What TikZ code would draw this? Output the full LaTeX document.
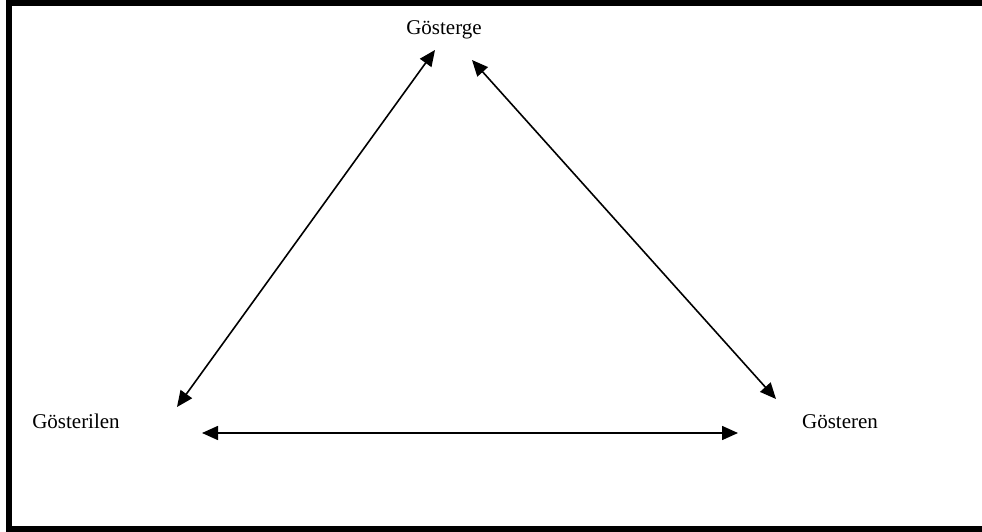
\documentclass[tikz,border=0pt]{standalone}
\usepackage{fontspec}
\setmainfont{Liberation Serif}
\usetikzlibrary{positioning,arrows.meta}

\begin{document}
\begin{tikzpicture}[
  x=1pt, y=-1pt,
  term/.style={font=\fontsize{21}{25}\selectfont, inner sep=0pt, anchor=base},
  arr/.style={{Triangle[length=16pt,width=14pt]}-{Triangle[length=16pt,width=14pt]}, line width=1.6pt},
  frame/.style={draw, line width=6pt}
]
\useasboundingbox (0,0) rectangle (982,532);
\draw[frame] (9,3) rectangle (990,529);

\node[term] (gosterge) at (444,35) {Gösterge};
\node[term] (gosterilen) at (76,428) {Gösterilen};
\node[term] (gosteren) at (840,428) {Gösteren};

% arrow tips
\coordinate (topl) at (435,50);
\coordinate (topr) at (472,60);
\coordinate (leftup) at (177,407);
\coordinate (rightup) at (776,399);
\coordinate (leftlow) at (202,433);
\coordinate (rightlow) at (738,433);

\draw[arr] (topl) -- (leftup);
\draw[arr] (topr) -- (rightup);
\draw[arr] (leftlow) -- (rightlow);
\end{tikzpicture}
\end{document}
